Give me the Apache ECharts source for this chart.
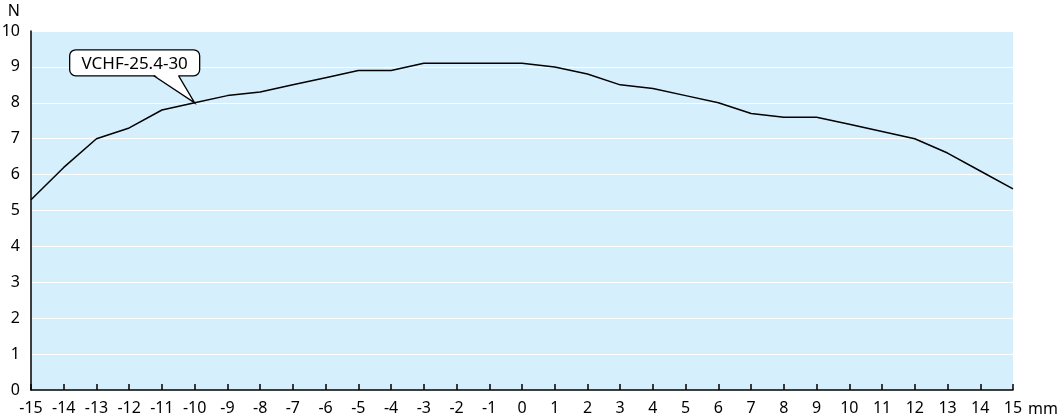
<!DOCTYPE html>
<html>
<head>
<meta charset="utf-8">
<style>
  html, body { margin: 0; padding: 0; background: #fff; }
  #chart { width: 1060px; height: 419px; }
</style>
<script src="https://cdn.jsdelivr.net/npm/echarts@6/dist/echarts.min.js"></script>
</head>
<body>
<div id="chart"></div>
<script>
// position along the spring travel (mm) and force (N)
var positions = [-15, -14, -13, -12, -11, -10, -9, -8, -7, -6, -5, -4, -3, -2, -1, 0,
  1, 2, 3, 4, 5, 6, 7, 8, 9, 10, 11, 12, 13, 14, 15];
var force = [5.3, 6.2, 7.0, 7.3, 7.8, 8.0, 8.2, 8.3, 8.5, 8.7, 8.9, 8.9, 9.1, 9.1, 9.1, 9.1,
  9.0, 8.8, 8.5, 8.4, 8.2, 8.0, 7.7, 7.6, 7.6, 7.4, 7.2, 7.0, 6.6, 6.1, 5.6];
var seriesName = 'VCHF-25.4-30';
var labelAt = -10;

var fontFamily = '"Noto Sans", sans-serif';
var fontSize = 16;

var myChart = echarts.init(document.getElementById('chart'));

var points = positions.map(function (p, i) { return [p, force[i]]; });

var option = {
  animation: false,
  textStyle: { fontFamily: fontFamily },
  grid: {
    left: 31, right: 47, top: 31, bottom: 29,
    outerBoundsMode: 'none',
    containLabel: false,
    show: true,
    backgroundColor: '#d6effd',
    borderWidth: 0
  },
  xAxis: {
    type: 'value',
    min: -15, max: 15, interval: 1,
    name: 'mm',
    nameLocation: 'end',
    nameGap: 14,
    nameTextStyle: { color: '#000', fontSize: fontSize, verticalAlign: 'top', padding: [11, 0, 0, 0] },
    axisLine: { show: true, onZero: false, lineStyle: { color: '#000', width: 1.5 } },
    axisTick: { show: true, inside: true, length: 6, lineStyle: { color: '#000', width: 1.5 } },
    axisLabel: { color: '#000', fontSize: fontSize, margin: 10 },
    splitLine: { show: false }
  },
  yAxis: {
    type: 'value',
    min: 0, max: 10, interval: 1,
    name: 'N',
    nameLocation: 'end',
    nameGap: 12,
    nameTextStyle: { color: '#000', fontSize: fontSize, align: 'right', padding: [0, 11, 0, 0] },
    axisLine: { show: true, onZero: false, lineStyle: { color: '#000', width: 1.5 } },
    axisTick: { show: false },
    axisLabel: { color: '#000', fontSize: fontSize, margin: 11 },
    splitLine: { show: true, lineStyle: { color: '#ffffff', width: 1.2 } }
  },
  series: [{
    name: seriesName,
    type: 'line',
    data: points,
    symbol: 'none',
    lineStyle: { color: '#000', width: 1.5 }
  }]
};

myChart.setOption(option);

// callout box with a tail pointing at the labelled point
var idx = positions.indexOf(labelAt);
var tip = myChart.convertToPixel({ gridIndex: 0 }, [positions[idx], force[idx]]);
var L = tip[0] - 125, R = tip[0] + 5, T = tip[1] - 53, B = tip[1] - 27;
var t1 = tip[0] - 41, t2 = tip[0] - 16;

myChart.setOption({
  graphic: [
    {
      type: 'rect',
      shape: { x: L, y: T, width: R - L, height: B - T, r: 6 },
      style: { fill: '#fff', stroke: '#000', lineWidth: 1.3 },
      z: 100
    },
    {
      type: 'polygon',
      shape: { points: [[t1 + 0.8, B - 1], [t2 - 0.8, B - 1], [tip[0], tip[1]]] },
      style: { fill: '#fff' },
      z: 101
    },
    {
      type: 'polyline',
      shape: { points: [[t1, B], [tip[0], tip[1]], [t2, B]] },
      style: { stroke: '#000', lineWidth: 1.3, fill: null },
      z: 102
    },
    {
      type: 'text',
      x: (L + R) / 2,
      y: (T + B) / 2 + 1,
      style: {
        text: seriesName,
        fill: '#000',
        font: '17px ' + fontFamily,
        align: 'center',
        verticalAlign: 'middle'
      },
      z: 103
    }
  ]
});
</script>
</body>
</html>
